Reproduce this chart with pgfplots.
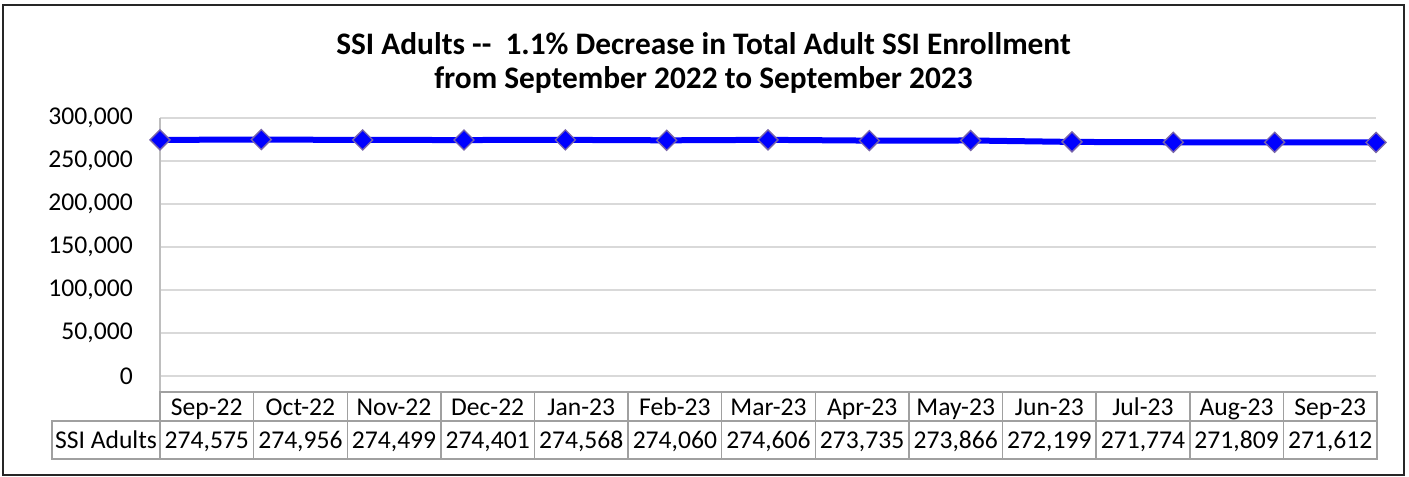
\documentclass[border=0pt]{standalone}
\usepackage{pgfplots}
\pgfplotsset{compat=1.18}
\usepackage{fontspec}
\setmainfont{Carlito}
\definecolor{gridc}{RGB}{217,217,217}
\definecolor{axc}{RGB}{190,190,190}
\definecolor{tbl}{RGB}{160,160,160}
\definecolor{mk}{RGB}{120,100,170}
\definecolor{ln}{RGB}{0,0,255}
\newcommand{\tf}{\fontsize{19.2}{23}\selectfont}
\begin{document}
\begin{tikzpicture}[x=0.75pt,y=-0.75pt]
\path[use as bounding box] (0,0) rectangle (1409,476);
\draw[line width=1.1pt, black!85] (3,5) rectangle (1404,475);
\node[font=\fontsize{23.5}{28}\selectfont\bfseries] at (703.5,44) {SSI Adults -{}-\ \ 1.1\% Decrease in Total Adult SSI Enrollment};
\node[font=\fontsize{23.5}{28}\selectfont\bfseries] at (703.5,80) {from September 2022 to September 2023};
\begin{axis}[
  at={(120pt,-282pt)}, anchor=south west,
  scale only axis, width=912pt, height=193.5pt,
  xmin=0, xmax=12, ymin=0, ymax=300000,
  ytick distance=50000, xtick=\empty,
  scaled y ticks=false,
  ymajorgrids, grid style={gridc, line width=1.1pt},
  axis lines*=left,
  axis line style={axc, line width=1.1pt, -},
  x axis line style={draw=none},
  major tick length=0pt,
  clip=false,
  yticklabel style={font=\tf, anchor=east, inner sep=0pt, xshift=-20.25pt},
  /pgf/number format/.cd, fixed, 1000 sep={,}, assume math mode=true,
]
\addplot[ln, line width=4.5pt, mark=square*, mark size=5.3pt,
  mark options={fill=ln, draw=mk, line width=1pt, rotate=45}]
  coordinates {
  (0,274575) (1,274956) (2,274499) (3,274401) (4,274568) (5,274060)
  (6,274606) (7,273735) (8,273866) (9,272199) (10,271774) (11,271809) (12,271612)
  };
\end{axis}
% data table
\draw[axc, line width=1.1pt] (160,376) -- (160,392);
\draw[tbl, line width=1.1pt] (160,392) rectangle (1377,459);
\draw[tbl, line width=1.1pt] (52,421) rectangle (160,459);
\draw[tbl, line width=1.1pt] (160,421) -- (1377,421);
\foreach \i in {1,...,12} {
  \draw[tbl, line width=1.1pt] ({160+\i*93.615},392) -- ({160+\i*93.615},459);
}
\node[font=\tf, anchor=base, inner sep=0pt] at (106,448) {SSI Adults};
\foreach \m/\v [count=\i from 0] in {Sep-22/{274,575},Oct-22/{274,956},Nov-22/{274,499},Dec-22/{274,401},Jan-23/{274,568},Feb-23/{274,060},Mar-23/{274,606},Apr-23/{273,735},May-23/{273,866},Jun-23/{272,199},Jul-23/{271,774},Aug-23/{271,809},Sep-23/{271,612}} {
  \node[font=\tf, anchor=base, inner sep=0pt] at ({160+\i*93.615+46.8},415) {\m};
  \node[font=\tf, anchor=base, inner sep=0pt] at ({160+\i*93.615+46.8},448) {\v};
}
\end{tikzpicture}
\end{document}
